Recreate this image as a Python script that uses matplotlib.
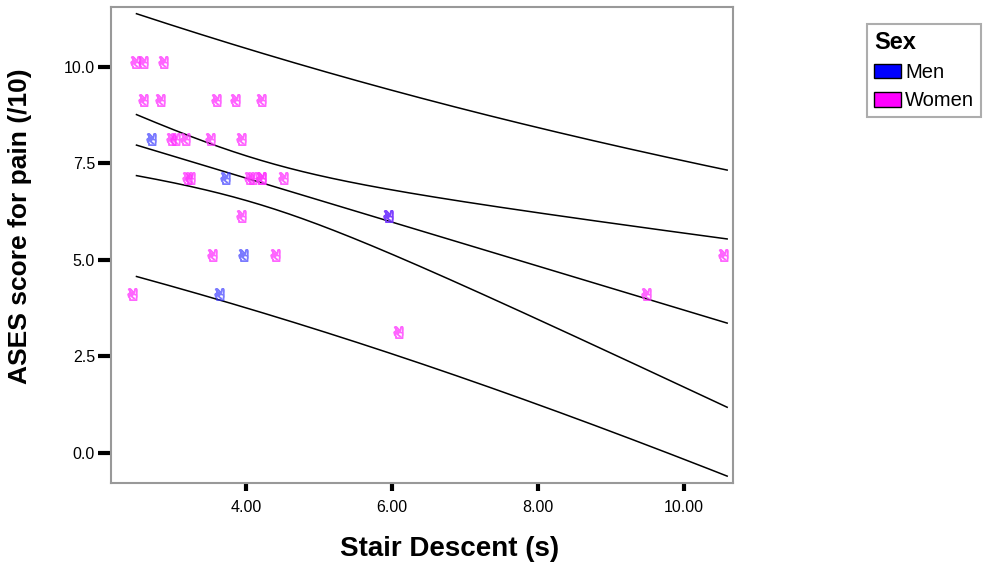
import math
import numpy as np
import matplotlib
matplotlib.use("Agg")
import matplotlib.pyplot as plt
from matplotlib.patches import Patch
from matplotlib.transforms import offset_copy
from matplotlib.textpath import TextPath
from matplotlib.font_manager import FontProperties
from matplotlib.path import Path

# ---------------- data ----------------
men_x = [2.76, 3.77, 4.01, 3.68, 6.00]
men_y = [8, 7, 5, 4, 6]

women_x = [2.53, 2.64, 2.92,
           2.64, 2.88, 3.65, 3.90, 4.26,
           3.03, 3.08, 3.22, 3.56, 3.98,
           3.25, 3.29, 4.09, 4.14, 4.26, 4.26, 4.56,
           3.98, 6.00,
           3.59, 4.45, 10.59,
           2.50, 9.53,
           6.13]
women_y = [10, 10, 10,
           9, 9, 9, 9, 9,
           8, 8, 8, 8, 8,
           7, 7, 7, 7, 7, 7, 7,
           6, 6,
           5, 5, 5,
           4, 4,
           3]

x_ticks = [4.0, 6.0, 8.0, 10.0]
x_ticklabels = ["4.00", "6.00", "8.00", "10.00"]
y_ticks = [0.0, 2.5, 5.0, 7.5, 10.0]
y_ticklabels = ["0.0", "2.5", "5.0", "7.5", "10.0"]
legend_labels = ["Men", "Women"]
legend_title = "Sex"
x_label = "Stair Descent (s)"
y_label = "ASES score for pain (/10)"

# ---------------- regression with 95% CI and PI ----------------
x_all = np.array(men_x + women_x, dtype=float)
y_all = np.array(men_y + women_y, dtype=float)
n = len(x_all)
xbar, ybar = x_all.mean(), y_all.mean()
sxx = np.sum((x_all - xbar) ** 2)
slope = np.sum((x_all - xbar) * (y_all - ybar)) / sxx
inter = ybar - slope * xbar
resid = y_all - (inter + slope * x_all)
df = n - 2
s = math.sqrt(np.sum(resid ** 2) / df)


def t_pdf(t, v):
    c = math.gamma((v + 1) / 2) / (math.sqrt(v * math.pi) * math.gamma(v / 2))
    return c * (1 + t * t / v) ** (-(v + 1) / 2)


def t_quantile(p, v):
    lo, hi = 0.0, 10.0
    for _ in range(60):
        mid = (lo + hi) / 2
        g = np.linspace(0, mid, 2001)
        cdf = 0.5 + np.trapezoid(t_pdf(g, v), g)
        if cdf < p:
            lo = mid
        else:
            hi = mid
    return (lo + hi) / 2


tq = t_quantile(0.975, df)
xs = np.linspace(x_all.min(), x_all.max(), 300)
fit = inter + slope * xs
se_mean = s * np.sqrt(1.0 / n + (xs - xbar) ** 2 / sxx)
se_pred = s * np.sqrt(1.0 + 1.0 / n + (xs - xbar) ** 2 / sxx)

# ---------------- marker: "victory hand" glyph as a path ----------------
tp = TextPath((0, 0), "\u270c", size=10, prop=FontProperties(family="DejaVu Sans"))
codes = tp.codes.copy()
v = tp.vertices.copy()
real = codes != Path.CLOSEPOLY
x0, x1 = v[real, 0].min(), v[real, 0].max()
y0, y1 = v[real, 1].min(), v[real, 1].max()
v[:, 0] -= (x0 + x1) / 2
v[:, 1] -= (y0 + y1) / 2
v[:, 0] *= 0.8 * (y1 - y0) / (x1 - x0)
v[~real] = 0.0
hand = Path(v, codes)

# ---------------- figure ----------------
plt.rcParams["font.family"] = ["Liberation Sans", "DejaVu Sans"]
fig = plt.figure(figsize=(10.05, 5.63), dpi=100)
ax = fig.add_axes([111 / 1005, 80 / 563, 622 / 1005, 476 / 563])

ax.set_xlim(2.151, 10.67)
ax.set_ylim(-0.777, 11.55)

line_kw = dict(color="black", lw=1.1)
ax.plot(xs, fit, **line_kw)
ax.plot(xs, fit + tq * se_mean, **line_kw)
ax.plot(xs, fit - tq * se_mean, **line_kw)
ax.plot(xs, fit + tq * se_pred, **line_kw)
ax.plot(xs, fit - tq * se_pred, **line_kw)

trans = offset_copy(ax.transData, fig=fig, x=-4, y=5, units="dots")
ax.plot(women_x, women_y, ls="none", marker=hand, ms=8.5,
        markerfacecolor="none", markeredgecolor="#ff33ff", alpha=0.75,
        mew=0.8, transform=trans)
ax.plot(men_x, men_y, ls="none", marker=hand, ms=8.5,
        markerfacecolor="none", markeredgecolor="#3333ff", alpha=0.65,
        mew=0.8, transform=trans)

for sp in ax.spines.values():
    sp.set_color("#999999")
    sp.set_linewidth(1.5)

ax.set_xticks(x_ticks)
ax.set_xticklabels(x_ticklabels)
ax.set_yticks(y_ticks)
ax.set_yticklabels(y_ticklabels)
ax.tick_params(axis="x", direction="out", length=6, width=3, color="black",
               labelsize=11.5, pad=6)
ax.tick_params(axis="y", direction="out", length=9.5, width=3, color="black",
               labelsize=11.5, pad=2)

ax.set_xlabel(x_label, fontsize=20, fontweight="bold")
ax.xaxis.set_label_coords((450 - 111) / 622, (563 - 536 - 80) / 476)
ax.set_ylabel(y_label, fontsize=19, fontweight="bold")
ax.yaxis.set_label_coords((32 - 111) / 622, (563 - 226 - 80) / 476)

handles = [Patch(facecolor="#0000ff", edgecolor="black", lw=1),
           Patch(facecolor="#ff00ff", edgecolor="black", lw=1)]
leg = fig.legend(handles, legend_labels, title=legend_title,
                 loc="upper left", bbox_to_anchor=(867 / 1005, 1 - 24 / 563),
                 frameon=True, fancybox=False, fontsize=14.5,
                 title_fontproperties={"weight": "bold", "size": 17},
                 alignment="left", handlelength=1.35, handleheight=0.75,
                 handletextpad=0.2, labelspacing=0.45, borderpad=0.35,
                 borderaxespad=0)
leg.get_frame().set_edgecolor("#999999")
leg.get_frame().set_linewidth(1.5)

fig.savefig("out.png", dpi=100)
